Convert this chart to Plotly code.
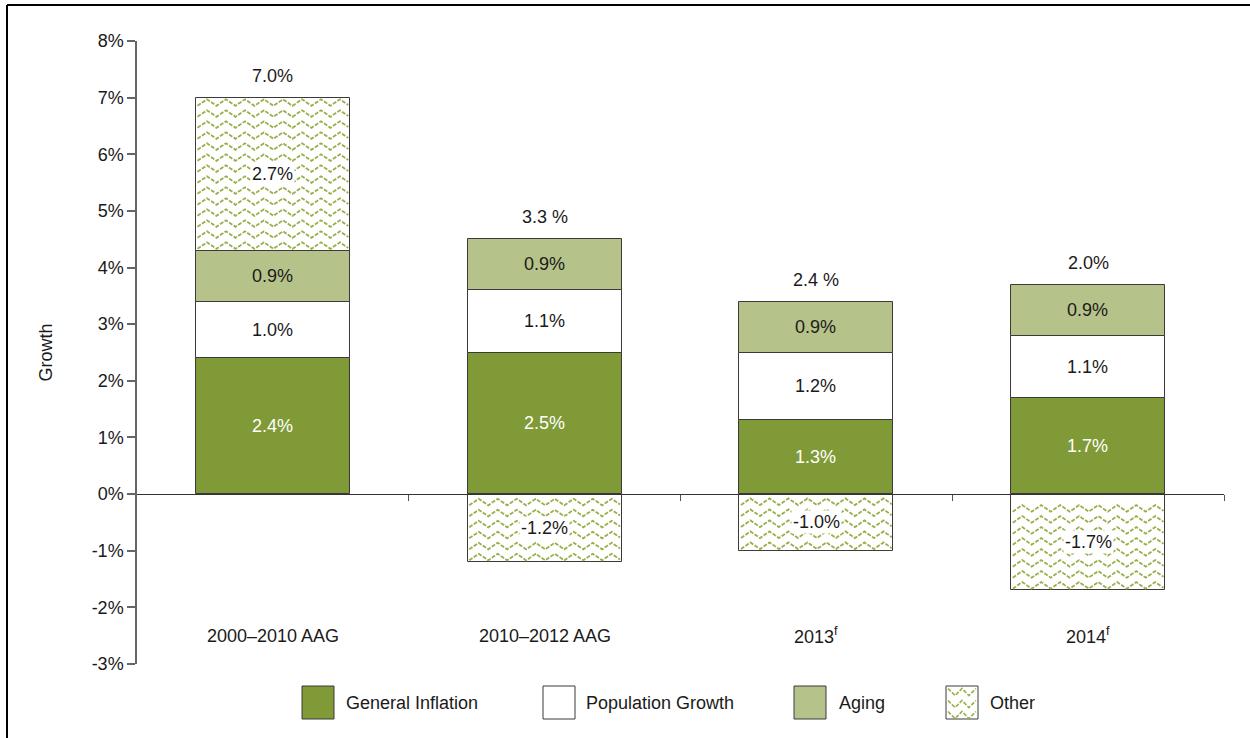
import plotly.graph_objects as go

categories = ["2000–2010 AAG", "2010–2012 AAG", "2013<sup>f</sup>", "2014<sup>f</sup>"]
general_inflation = [2.4, 2.5, 1.3, 1.7]
population_growth = [1.0, 1.1, 1.2, 1.1]
aging = [0.9, 0.9, 0.9, 0.9]
other = [2.7, -1.2, -1.0, -1.7]
total_labels = ["7.0%", "3.3 %", "2.4 %", "2.0%"]
series_names = ["General Inflation", "Population Growth", "Aging", "Other"]
y_ticks = [-3, -2, -1, 0, 1, 2, 3, 4, 5, 6, 7, 8]
y_tick_text = ["-3%", "-2%", "-1%", "0%", "1%", "2%", "3%", "4%", "5%", "6%", "7%", "8%"]

W, H = 1250, 738
ML, MR, MT, MB = 137, 26, 41, 74
PW, PH = W - ML - MR, H - MT - MB
YMIN, YMAX = -3, 8
XMIN, XMAX = -0.5, 3.5
PX_X = PW / (XMAX - XMIN)
PX_Y = PH / (YMAX - YMIN)

GI_COL = "#7f9a36"
AG_COL = "#b5c289"
ZZ_COL = "#98b04b"
EDGE = "#3a3a3a"
TXT = "#1a1a1a"
FONT = "Liberation Sans, Arial, sans-serif"
FS = 18
BW = 0.566

xs = list(range(len(categories)))
fig = go.Figure()

fig.add_bar(x=xs, y=general_inflation, name=series_names[0], width=BW,
            marker=dict(color=GI_COL, line=dict(color=EDGE, width=1)),
            text=[f"{v:.1f}%" for v in general_inflation], textposition="inside",
            insidetextanchor="middle", textfont=dict(color="white", size=FS, family=FONT),
            showlegend=False)
fig.add_bar(x=xs, y=population_growth, name=series_names[1], width=BW,
            marker=dict(color="white", line=dict(color=EDGE, width=1)),
            text=[f"{v:.1f}%" for v in population_growth], textposition="inside",
            insidetextanchor="middle", textfont=dict(color=TXT, size=FS, family=FONT),
            showlegend=False)
fig.add_bar(x=xs, y=aging, name=series_names[2], width=BW,
            marker=dict(color=AG_COL, line=dict(color=EDGE, width=1)),
            text=[f"{v:.1f}%" for v in aging], textposition="inside",
            insidetextanchor="middle", textfont=dict(color=TXT, size=FS, family=FONT),
            showlegend=False)
fig.add_bar(x=xs, y=other, name=series_names[3], width=BW,
            marker=dict(color="white", line=dict(color=EDGE, width=1)),
            showlegend=False)

# zigzag fill pattern for "Other" bars, built from each bar's extent
period_px, row_px, amp_px = 19, 11, 3.3
zx, zy = [], []
for i, v in enumerate(other):
    pos_top = general_inflation[i] + population_growth[i] + aging[i]
    base = pos_top if v > 0 else 0
    lo, hi = (base, base + v) if v > 0 else (v, 0)
    x0, x1 = i - BW / 2 + 1.5 / PX_X, i + BW / 2 - 1.5 / PX_X
    amp = amp_px / PX_Y
    half = (period_px / 2) / PX_X
    r = lo + (5 / PX_Y)
    while r + amp < hi - 1 / PX_Y:
        x = x0
        k = 0
        while x < x1:
            zx.append(x)
            zy.append(r + (amp if k % 2 else -amp))
            x += half
            k += 1
        # finish the row exactly at the bar's right edge
        prev_y = r + (amp if (k - 1) % 2 else -amp)
        next_y = r + (amp if k % 2 else -amp)
        frac = (x1 - (x - half)) / half
        zx.append(x1)
        zy.append(prev_y + (next_y - prev_y) * frac)
        zx.append(None)
        zy.append(None)
        r += row_px / PX_Y
fig.add_scatter(x=zx, y=zy, mode="lines", line=dict(color=ZZ_COL, width=1.8, dash="4px,1.5px"),
                hoverinfo="skip", showlegend=False)

annotations = []
for i, v in enumerate(other):
    pos_top = general_inflation[i] + population_growth[i] + aging[i]
    mid = pos_top + v / 2 if v > 0 else v / 2
    annotations.append(dict(x=i, y=mid, text=f"{v:.1f}%", showarrow=False,
                            bgcolor="white", font=dict(size=FS, color=TXT, family=FONT),
                            borderpad=1))
    top = max(pos_top, pos_top + v)
    annotations.append(dict(x=i, y=top, text=total_labels[i], showarrow=False,
                            yanchor="bottom", yshift=10,
                            font=dict(size=FS, color=TXT, family=FONT)))
    annotations.append(dict(x=i, y=-2.5, text=categories[i], showarrow=False,
                            font=dict(size=FS, color=TXT, family=FONT)))


def px2paper(px, py):
    return (px - ML) / PW, (H - MB - py) / PH


shapes = []
legend_items = [
    (302, 344, GI_COL, series_names[0]),
    (543, 584, "white", series_names[1]),
    (794, 837, AG_COL, series_names[2]),
    (946, 988, "white", series_names[3]),
]
for sx, tx, col, name in legend_items:
    ax0, ay0 = px2paper(sx, 719)
    ax1, ay1 = px2paper(sx + 32, 686)
    shapes.append(dict(type="rect", xref="paper", yref="paper", x0=ax0, y0=ay0, x1=ax1, y1=ay1,
                       fillcolor=col, line=dict(color=EDGE, width=1)))
    tpx, tpy = px2paper(tx, 703)
    annotations.append(dict(x=tpx, y=tpy, xref="paper", yref="paper", text=name,
                            xanchor="left", yanchor="middle", showarrow=False,
                            font=dict(size=FS, color=TXT, family=FONT)))
    if name == "Other":
        for ry in (692, 704, 715):
            pts = []
            for k in range(5):
                qx = sx + 2 + k * 28 / 4
                qy = ry + (-3.5 if k % 2 == 0 else 3.5)
                pts.append(px2paper(qx, qy))
            path = "M " + " L ".join(f"{a:.5f},{b:.5f}" for a, b in pts)
            shapes.append(dict(type="path", xref="paper", yref="paper", path=path,
                               line=dict(color=ZZ_COL, width=1.6, dash="4px,1.5px")))

# outer frame (top and left)
fx, fy = px2paper(7, 5)
shapes.append(dict(type="line", xref="paper", yref="paper", x0=fx, y0=fy, x1=(W - ML) / PW, y1=fy,
                   line=dict(color="black", width=2)))
shapes.append(dict(type="line", xref="paper", yref="paper", x0=fx, y0=fy, x1=fx, y1=-MB / PH,
                   line=dict(color="black", width=2)))

fig.update_layout(
    width=W, height=H, barmode="relative", bargap=0,
    margin=dict(l=ML, r=MR, t=MT, b=MB),
    plot_bgcolor="white", paper_bgcolor="white",
    font=dict(family=FONT, size=FS, color=TXT),
    annotations=annotations, shapes=shapes,
    xaxis=dict(range=[XMIN, XMAX], showgrid=False, zeroline=False,
               anchor="free", position=(0 - YMIN) / (YMAX - YMIN),
               showline=True, linecolor="#333333", linewidth=1.2,
               tickmode="array", tickvals=[0.5, 1.5, 2.5, 3.5], ticks="outside",
               ticklen=6, tickcolor="#555555", showticklabels=False),
    yaxis=dict(range=[YMIN, YMAX], tickmode="array", tickvals=y_ticks, ticktext=y_tick_text,
               showgrid=False, zeroline=False, showline=True, linecolor="#666666",
               linewidth=1.5, ticks="outside", ticklen=8, tickcolor="#666666", tickwidth=1.5,
               tickfont=dict(size=FS, family=FONT, color=TXT),
               title=dict(text="Growth", font=dict(size=FS, family=FONT, color=TXT),
                          standoff=34)),
)

fig.write_html("out.html", config={"displayModeBar": False},
               post_script="document.body.style.margin='0';")
